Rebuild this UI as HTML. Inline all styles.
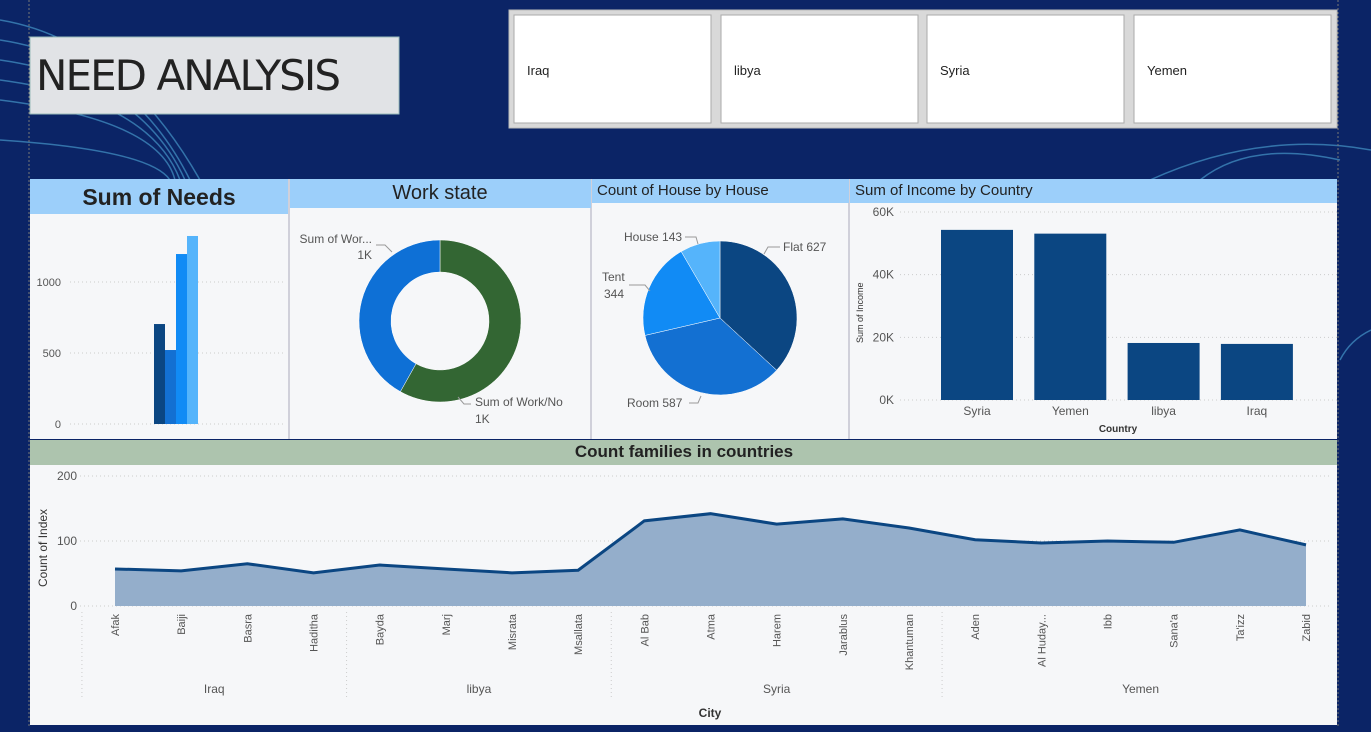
<!DOCTYPE html>
<html><head><meta charset="utf-8"><style>
body{margin:0;width:1371px;height:727px;overflow:hidden;background:#0b2466;font-family:"Liberation Sans",sans-serif;}
svg text{font-family:"Liberation Sans",sans-serif;}
</style></head><body>
<svg id="s" width="1371" height="727" xmlns="http://www.w3.org/2000/svg">
<g fill="none" stroke="#4fa8d8" stroke-width="1.5" opacity="0.6">
<path d="M0 20 Q120 40 200 180"/><path d="M0 40 Q130 60 190 180"/><path d="M0 60 Q140 80 185 180"/><path d="M0 80 Q150 100 180 180"/><path d="M0 100 Q160 120 175 180"/><path d="M0 140 Q150 150 170 180"/>
<path d="M1340 160 Q1250 140 1200 180"/><path d="M1371 150 Q1260 130 1150 180"/><path d="M1371 330 Q1350 340 1340 360"/>
</g>
<line x1="29" y1="0" x2="29" y2="727" stroke="#777" stroke-dasharray="2,2"/>
<line x1="1338" y1="0" x2="1338" y2="727" stroke="#777" stroke-dasharray="2,2"/>
<g>
<rect x="30" y="37" width="369" height="77" fill="#e1e3e6" stroke="#9bb" />
<text x="36" y="90" font-size="42" fill="#222" style='font-family:"DejaVu Sans",sans-serif' textLength="305">NEED ANALYSIS</text>
</g>
<g>
<rect x="509" y="10" width="828" height="118" fill="#d9d9d9" stroke="#bbb"/>
<g><rect x="514" y="15" width="197" height="108" fill="#fff" stroke="#aaa"/><text x="527" y="75" font-size="13" fill="#222">Iraq</text></g>
<g><rect x="721" y="15" width="197" height="108" fill="#fff" stroke="#aaa"/><text x="734" y="75" font-size="13" fill="#222">libya</text></g>
<g><rect x="927" y="15" width="197" height="108" fill="#fff" stroke="#aaa"/><text x="940" y="75" font-size="13" fill="#222">Syria</text></g>
<g><rect x="1134" y="15" width="197" height="108" fill="#fff" stroke="#aaa"/><text x="1147" y="75" font-size="13" fill="#222">Yemen</text></g>
</g>
<!-- panels -->
<rect x="30" y="179" width="1307" height="260" fill="#f6f7f9"/>
<line x1="289" y1="179" x2="289" y2="439" stroke="#aab"/><line x1="591" y1="179" x2="591" y2="439" stroke="#aab"/><line x1="849" y1="179" x2="849" y2="439" stroke="#aab"/>
<g><rect x="30" y="179" width="258" height="35" fill="#9ccffa"/><text x="159" y="205" font-size="23" font-weight="bold" text-anchor="middle" fill="#222">Sum of Needs</text></g>
<g><rect x="290" y="179" width="301" height="29" fill="#9ccffa"/><text x="440" y="199" font-size="20" text-anchor="middle" fill="#222">Work state</text></g>
<g><rect x="592" y="179" width="257" height="24" fill="#9ccffa"/><text x="597" y="195" font-size="15" fill="#222">Count of House by House</text></g>
<g><rect x="850" y="179" width="487" height="24" fill="#9ccffa"/><text x="855" y="195" font-size="15" fill="#222">Sum of Income by Country</text></g>
<rect x="30" y="465" width="1307" height="260" fill="#f6f7f9"/>
<g><rect x="30" y="440" width="1307" height="25" fill="#adc4ae"/><text x="684" y="457" font-size="17" font-weight="bold" text-anchor="middle" fill="#222">Count families in countries</text></g>
<g id="charts"></g>
</svg>
<script>
const needsValues=[704,521,1197,1324];
const needsColors=['#0b4682','#1370d2','#118bf5','#55b4fb'];
const needsTicks=[0,500,1000];
const workLabels=['Sum of Work/No','Sum of Wor...'];
const workValues=[1250,900];
const houseLabels=['Flat','Room','Tent','House'];
const houseValues=[627,587,344,143];
const incomeCountries=['Syria','Yemen','libya','Iraq'];
const incomeValues=[54.3,53.1,18.2,17.9];
const incomeTicks=[0,20,40,60];
const cities=['Afak','Baiji','Basra','Haditha','Bayda','Marj','Misrata','Msallata','Al Bab','Atma','Harem','Jarablus','Khantuman','Aden','Al Huday...','Ibb',"Sana'a","Ta'izz",'Zabid'];
const familyCounts=[57,54,65,51,63,57,51,55,131,142,126,134,120,102,97,100,98,117,94];
const groups=['Iraq','libya','Syria','Yemen'];
const groupSizes=[4,4,5,6];
const familyTicks=[0,100,200];

const NS='http://www.w3.org/2000/svg';
const root=document.getElementById('charts');
function mk(tag,attrs,parent){const e=document.createElementNS(NS,tag);for(const k in attrs)e.setAttribute(k,attrs[k]);(parent||root).appendChild(e);return e;}
function txt(x,y,s,attrs){const e=mk('text',Object.assign({x:x,y:y,'font-size':11,fill:'#555'},attrs||{}));e.textContent=s;return e;}

// Sum of needs
const ny=v=>424-v*0.142;
needsTicks.forEach(t=>{mk('line',{x1:70,x2:285,y1:ny(t),y2:ny(t),stroke:'#ccc','stroke-dasharray':'1,3'});const e=txt(61,ny(t)+4,String(t),{'text-anchor':'end'});});
needsValues.forEach((v,i)=>{const r=mk('rect',{x:154+i*11,y:ny(v),width:11,height:v*0.142,fill:needsColors[i]});});

// donut
function arc(cx,cy,r,ri,a0,a1){const p=(a,rr)=>[cx+rr*Math.sin(a),cy-rr*Math.cos(a)];const l=(a1-a0)>Math.PI?1:0;const [x0,y0]=p(a0,r),[x1,y1]=p(a1,r),[x2,y2]=p(a1,ri),[x3,y3]=p(a0,ri);
return ri>0?`M${x0} ${y0}A${r} ${r} 0 ${l} 1 ${x1} ${y1}L${x2} ${y2}A${ri} ${ri} 0 ${l} 0 ${x3} ${y3}Z`:`M${cx} ${cy}L${x0} ${y0}A${r} ${r} 0 ${l} 1 ${x1} ${y1}Z`;}
const wt=workValues.reduce((a,b)=>a+b,0);let a=0;const wc=['#336633','#0e70d6'];
workValues.forEach((v,i)=>{const a1=a+v/wt*2*Math.PI;const p=mk('path',{d:arc(440,321,81,49,a,a1),fill:wc[i],stroke:'#fff','stroke-width':0.5});a=a1;});
txt(475,406,'Sum of Work/No',{'font-size':12});txt(475,423,'1K',{'font-size':12});
txt(372,243,'Sum of Wor...',{'font-size':12,'text-anchor':'end'});txt(372,259,'1K',{'font-size':12,'text-anchor':'end'});
mk('path',{d:'M376 245 L385 245 L392 252',fill:'none',stroke:'#999'});mk('path',{d:'M471 404 L464 404 L458 397',fill:'none',stroke:'#999'});

// pie
const hc=['#0b4682','#1370d2','#118bf5','#55b4fb'];const ht=houseValues.reduce((a,b)=>a+b,0);a=0;
houseValues.forEach((v,i)=>{const a1=a+v/ht*2*Math.PI;const p=mk('path',{d:arc(720,318,77,0,a,a1),fill:hc[i],stroke:'#fff','stroke-width':0.5});a=a1;});
txt(783,251,'Flat '+houseValues[0],{'font-size':12});txt(627,407,'Room '+houseValues[1],{'font-size':12});
txt(602,281,'Tent',{'font-size':12});txt(604,298,String(houseValues[2]),{'font-size':12});txt(624,241,'House '+houseValues[3],{'font-size':12});
mk('path',{d:'M780 247 L768 247 L764 254',fill:'none',stroke:'#999'});mk('path',{d:'M685 237 L696 237 L698 244',fill:'none',stroke:'#999'});
mk('path',{d:'M629 285 L645 285 L650 291',fill:'none',stroke:'#999'});mk('path',{d:'M689 403 L698 403 L701 396',fill:'none',stroke:'#999'});

// income
const iy=v=>400-v*3.133;
incomeTicks.forEach(t=>{mk('line',{x1:900,x2:1337,y1:iy(t),y2:iy(t),stroke:'#ccc','stroke-dasharray':'1,3'});txt(894,iy(t)+4,t+'K',{'text-anchor':'end','font-size':12});});
incomeValues.forEach((v,i)=>{const x=941+i*93.3;const r=mk('rect',{x:x,y:iy(v),width:72,height:v*3.133,fill:'#0b4682'});txt(x+36,415,incomeCountries[i],{'text-anchor':'middle','font-size':12});});
txt(1118,432,'Country',{'text-anchor':'middle','font-size':10,fill:'#333','font-weight':'bold'});
txt(0,0,'Sum of Income',{'font-size':9,fill:'#333',transform:'translate(863,343) rotate(-90)'});

// line/area
const lx=i=>115+i*(1306-115)/(cities.length-1);const ly=v=>606-v*0.65;
familyTicks.forEach(t=>{mk('line',{x1:80,x2:1330,y1:ly(t),y2:ly(t),stroke:'#ccc','stroke-dasharray':'1,3'});txt(77,ly(t)+4,String(t),{'text-anchor':'end','font-size':12});});
let pts=familyCounts.map((v,i)=>lx(i)+','+ly(v)).join(' ');
const ar=mk('polygon',{points:lx(0)+','+ly(0)+' '+pts+' '+lx(cities.length-1)+','+ly(0),fill:'#94aecb'});
const pl=mk('polyline',{points:pts,fill:'none',stroke:'#0b4682','stroke-width':3});
cities.forEach((c,i)=>{const e=txt(0,0,c,{'font-size':11,'text-anchor':'end',transform:`translate(${lx(i)+4},614) rotate(-90)`});});
let start=0;const half=(1306-115)/(cities.length-1)/2;
groups.forEach((g,k)=>{const x0=lx(start)-half,x1=lx(start+groupSizes[k]-1)+half;mk('line',{x1:x0,x2:x0,y1:612,y2:700,stroke:'#ccc','stroke-dasharray':'1,3'});txt((x0+x1)/2,693,g,{'text-anchor':'middle','font-size':12});start+=groupSizes[k];});
txt(710,717,'City',{'text-anchor':'middle','font-size':12,fill:'#333','font-weight':'bold'});
txt(0,0,'Count of Index',{'font-size':12,fill:'#333',transform:'translate(47,587) rotate(-90)'});
</script>
</body></html>
